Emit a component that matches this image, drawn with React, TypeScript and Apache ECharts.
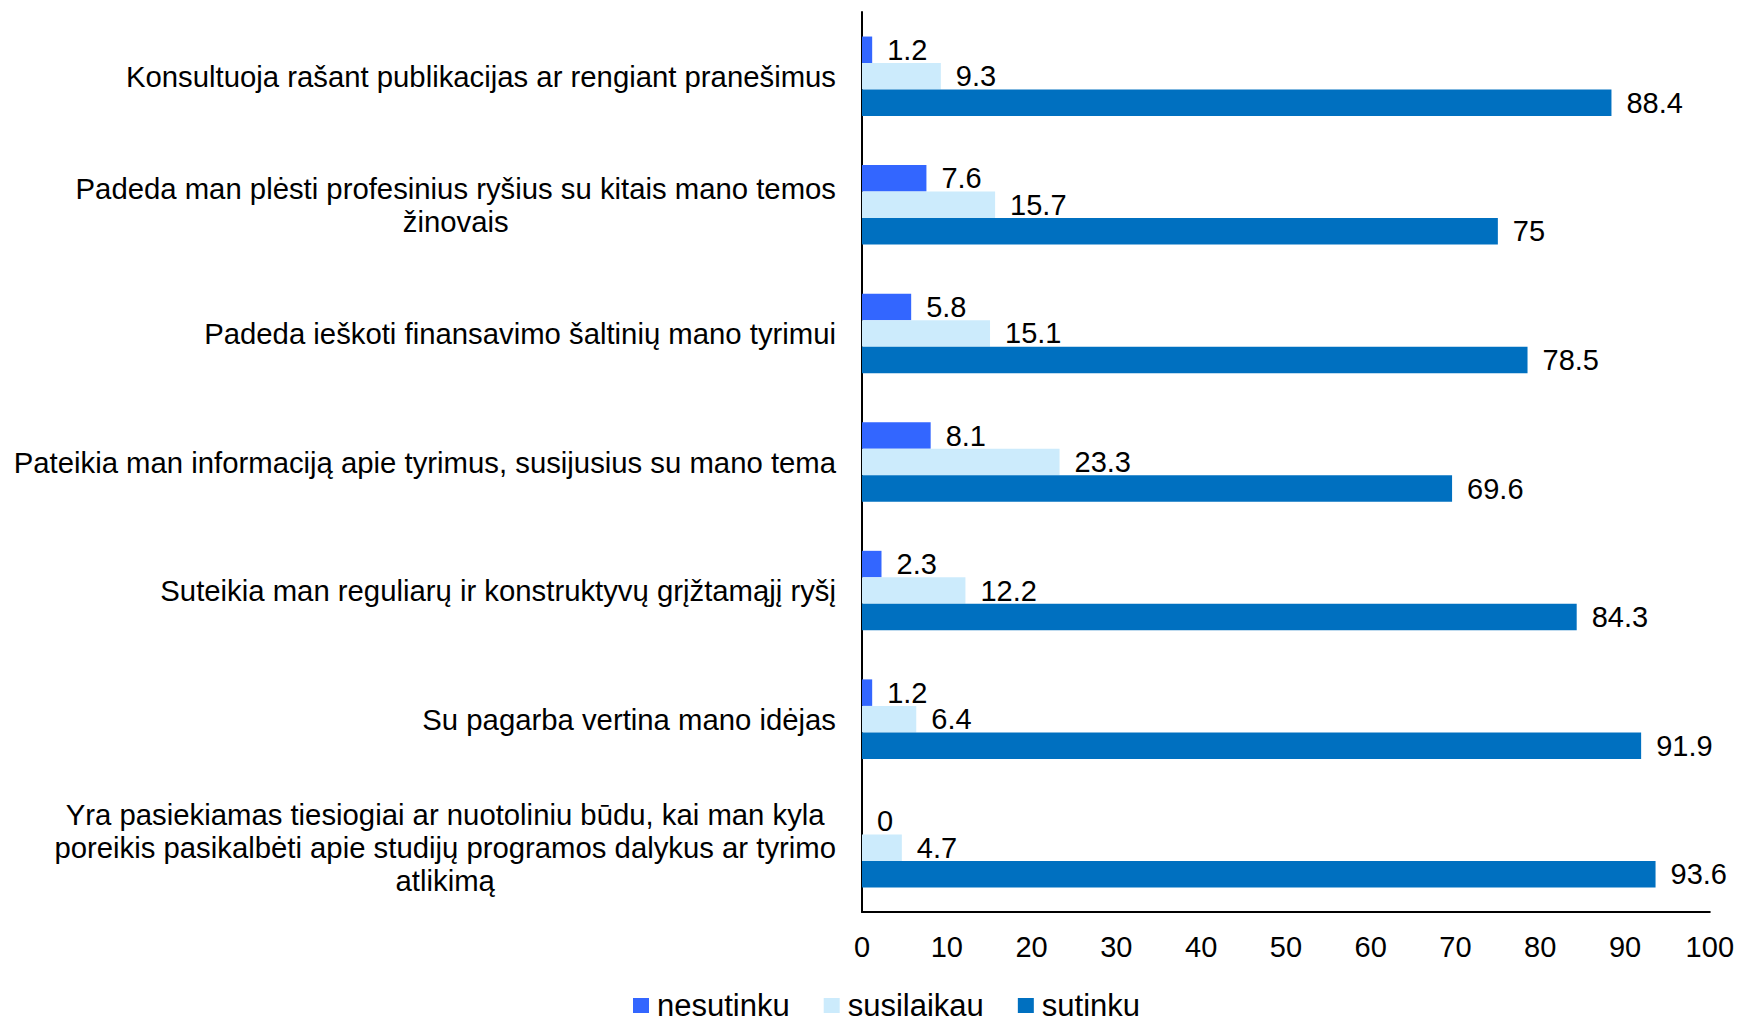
import React, { useEffect, useRef } from "react";
import * as echarts from "echarts";

const categories: string[] = [
  "Konsultuoja rašant publikacijas ar rengiant pranešimus",
  "Padeda man plėsti profesinius ryšius su kitais mano temos\nžinovais",
  "Padeda ieškoti finansavimo šaltinių mano tyrimui",
  "Pateikia man informaciją apie tyrimus, susijusius su mano tema",
  "Suteikia man reguliarų ir konstruktyvų grįžtamąjį ryšį",
  "Su pagarba vertina mano idėjas",
  "Yra pasiekiamas tiesiogiai ar nuotoliniu būdu, kai man kyla\nporeikis pasikalbėti apie studijų programos dalykus ar tyrimo\natlikimą",
];

const nesutinku: number[] = [1.2, 7.6, 5.8, 8.1, 2.3, 1.2, 0];
const susilaikau: number[] = [9.3, 15.7, 15.1, 23.3, 12.2, 6.4, 4.7];
const sutinku: number[] = [88.4, 75, 78.5, 69.6, 84.3, 91.9, 93.6];

const seriesNames = ["nesutinku", "susilaikau", "sutinku"];
const seriesColors = ["#3366FF", "#CCEBFC", "#0070C0"];
const xTicks = { min: 0, max: 100, interval: 10 };

const FONT = "'Liberation Sans', Arial, sans-serif";
const FS = 29;
const CAT_FS = 29.3;

export default function App() {
  const ref = useRef<HTMLDivElement>(null);
  useEffect(() => {
    if (!ref.current) return;
    const chart = echarts.init(ref.current, undefined, { renderer: "svg" });
    const seriesData = [nesutinku, susilaikau, sutinku];
    chart.setOption({
      animation: false,
      backgroundColor: "#ffffff",
      textStyle: { fontFamily: FONT },
      grid: { left: 862, right: 26, top: 12, bottom: 105, containLabel: false },
      legend: {
        left: 628,
        top: 985,
        itemWidth: 16,
        itemHeight: 15,
        itemGap: 34,
        icon: "rect",
        data: seriesNames,
        textStyle: { fontSize: 31, color: "#000", fontFamily: FONT, padding: [0, 0, 0, 3] },
      },
      xAxis: {
        type: "value",
        min: xTicks.min,
        max: xTicks.max,
        interval: xTicks.interval,
        axisLine: { show: true, lineStyle: { color: "#000", width: 2 } },
        axisTick: { show: false },
        splitLine: { show: false },
        axisLabel: { color: "#000", fontSize: FS, fontFamily: FONT, margin: 20 },
      },
      yAxis: {
        type: "category",
        inverse: true,
        data: categories,
        axisLine: { show: true, lineStyle: { color: "#000", width: 2 } },
        axisTick: { show: false },
        axisLabel: {
          color: "#000",
          fontSize: CAT_FS,
          fontFamily: FONT,
          margin: 26,
          align: "right",
          lineHeight: 33,
          formatter: (v: string) =>
            v
              .split("\n")
              .map((l) => `{c|${l}}`)
              .join("\n"),
          rich: {
            c: { align: "center", fontSize: CAT_FS, fontFamily: FONT, color: "#000", lineHeight: 33 },
          },
        },
      },
      series: seriesNames.map((name, i) => ({
        name,
        type: "bar",
        data: seriesData[i],
        barWidth: 26.5,
        barGap: "0%",
        itemStyle: { color: seriesColors[i] },
        label: {
          show: true,
          position: "right",
          distance: 15,
          color: "#000",
          fontSize: FS,
          fontFamily: FONT,
        },
      })),
    });
    return () => chart.dispose();
  }, []);
  return (
    <div
      ref={ref}
      style={{ position: "fixed", left: 0, top: 0, width: 1737, height: 1017 }}
    />
  );
}
